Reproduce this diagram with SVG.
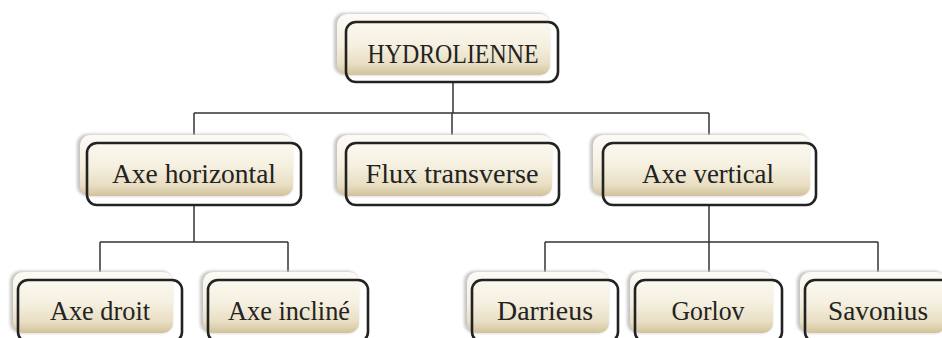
<svg xmlns="http://www.w3.org/2000/svg" width="942" height="338" viewBox="0 0 942 338">
<defs>
<linearGradient id="fillGrad" x1="0" y1="0" x2="0" y2="1">
<stop offset="0" stop-color="#fdfbf5"/>
<stop offset="0.5" stop-color="#f5f0e0"/>
<stop offset="0.82" stop-color="#e8dec3"/>
<stop offset="1" stop-color="#d2c29a"/>
</linearGradient>
<filter id="soft" x="-10%" y="-20%" width="120%" height="140%">
<feGaussianBlur stdDeviation="1.5"/>
</filter>
</defs>
<style>
.sh{fill:#c4c4c4;filter:url(#soft);}
.bg{fill:url(#fillGrad);}
.ol{fill:none;stroke:#222;stroke-width:2.6;}
.lbl{font-family:"Liberation Serif","DejaVu Serif",serif;font-size:28px;fill:#222;text-anchor:middle;}
.cn{fill:none;stroke:#333;stroke-width:1.5;}
</style>
<rect width="942" height="338" fill="#fff"/>
<g id="connectors">
<path class="cn" d="M453,82V113M194,113H709M194,113V143M452,113V143M709,113V143"/>
<path class="cn" d="M194,205V242M100,242H288M100,242V280M288,242V280"/>
<path class="cn" d="M709,205V242M545,242H878M545,242V280M709,242V280M878,242V280"/>
</g>
<g id="hydrolienne">
<rect class="sh" x="334" y="13" width="215" height="62" rx="10"/>
<rect class="bg" x="337" y="14" width="213" height="61" rx="10"/>
<rect class="ol" x="346" y="22" width="212" height="60" rx="10"/>
<text class="lbl" x="453" y="63" textLength="171" lengthAdjust="spacingAndGlyphs">HYDROLIENNE</text>
</g>
<g id="axe-horizontal">
<rect class="sh" x="77" y="134" width="215" height="62" rx="10"/>
<rect class="bg" x="80" y="135" width="213" height="61" rx="10"/>
<rect class="ol" x="87" y="143" width="214" height="62" rx="10"/>
<text class="lbl" x="194" y="183" textLength="164" lengthAdjust="spacingAndGlyphs">Axe horizontal</text>
</g>
<g id="flux-transverse">
<rect class="sh" x="334" y="134" width="217" height="62" rx="10"/>
<rect class="bg" x="337" y="135" width="215" height="61" rx="10"/>
<rect class="ol" x="346" y="143" width="213" height="62" rx="10"/>
<text class="lbl" x="452" y="183" textLength="173" lengthAdjust="spacingAndGlyphs">Flux transverse</text>
</g>
<g id="axe-vertical">
<rect class="sh" x="590" y="134" width="219" height="62" rx="10"/>
<rect class="bg" x="593" y="135" width="217" height="61" rx="10"/>
<rect class="ol" x="603" y="143" width="213" height="62" rx="10"/>
<text class="lbl" x="708" y="183" textLength="132" lengthAdjust="spacingAndGlyphs">Axe vertical</text>
</g>
<g id="axe-droit">
<rect class="sh" x="10" y="271" width="162" height="62" rx="10"/>
<rect class="bg" x="13" y="272" width="160" height="61" rx="10"/>
<rect class="ol" x="18" y="280" width="164" height="62" rx="10"/>
<text class="lbl" x="100" y="320" textLength="100" lengthAdjust="spacingAndGlyphs">Axe droit</text>
</g>
<g id="axe-incline">
<rect class="sh" x="200" y="271" width="158" height="62" rx="10"/>
<rect class="bg" x="203" y="272" width="156" height="61" rx="10"/>
<rect class="ol" x="208" y="280" width="160" height="62" rx="10"/>
<text class="lbl" x="289" y="320" textLength="122" lengthAdjust="spacingAndGlyphs">Axe incliné</text>
</g>
<g id="darrieus">
<rect class="sh" x="464" y="271" width="144" height="62" rx="10"/>
<rect class="bg" x="467" y="272" width="142" height="61" rx="10"/>
<rect class="ol" x="472" y="280" width="146" height="62" rx="10"/>
<text class="lbl" x="545" y="320" textLength="96" lengthAdjust="spacingAndGlyphs">Darrieus</text>
</g>
<g id="gorlov">
<rect class="sh" x="627" y="271" width="145" height="62" rx="10"/>
<rect class="bg" x="630" y="272" width="143" height="61" rx="10"/>
<rect class="ol" x="635" y="280" width="147" height="62" rx="10"/>
<text class="lbl" x="708" y="320" textLength="73" lengthAdjust="spacingAndGlyphs">Gorlov</text>
</g>
<g id="savonius">
<rect class="sh" x="797" y="271" width="148" height="62" rx="10"/>
<rect class="bg" x="800" y="272" width="146" height="61" rx="10"/>
<rect class="ol" x="805" y="280" width="150" height="62" rx="10"/>
<text class="lbl" x="878" y="320" textLength="100" lengthAdjust="spacingAndGlyphs">Savonius</text>
</g>
</svg>
